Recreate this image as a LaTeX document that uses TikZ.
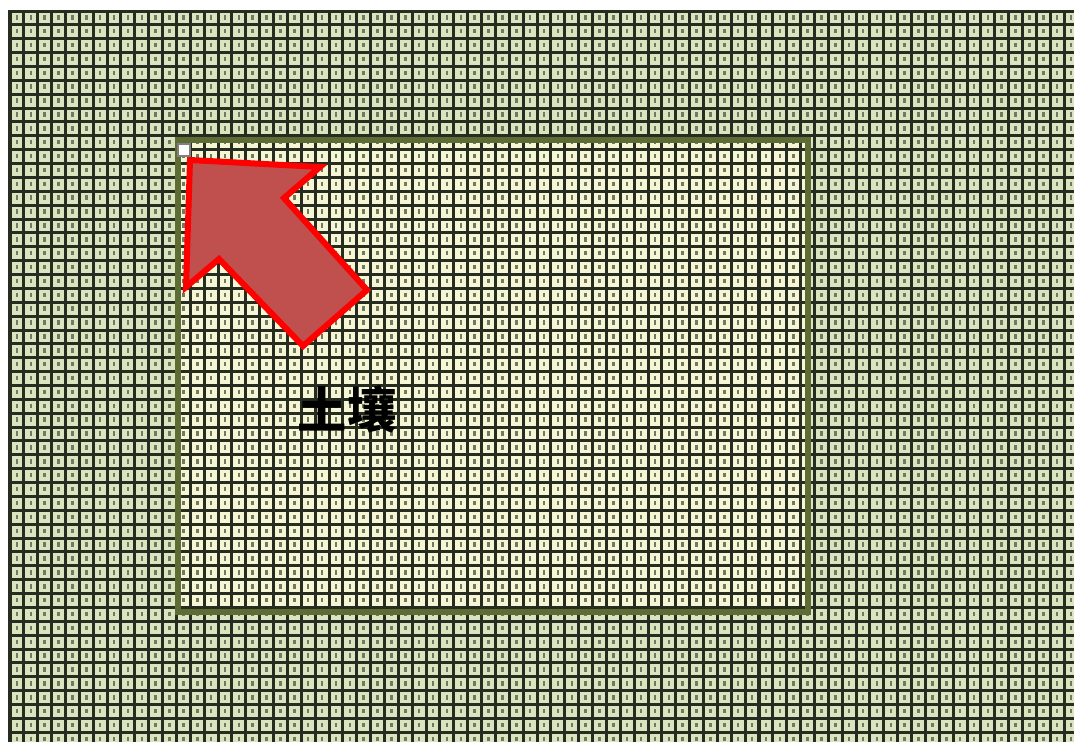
\documentclass[tikz,border=0pt]{standalone}
\usepackage{fontspec}
\newfontfamily\cjkfont{Noto Sans CJK SC}
\usepackage{tikz}
\usetikzlibrary{positioning}
\usepackage{xcolor}
\definecolor{cellgreen}{RGB}{218,228,190}
\definecolor{soilyellow}{RGB}{246,246,212}
\definecolor{gridline}{RGB}{38,44,32}
\definecolor{dotgrey}{RGB}{112,122,98}
\definecolor{soilborder}{RGB}{92,108,52}
\definecolor{arrowfill}{RGB}{192,80,77}
\definecolor{arrowline}{RGB}{255,0,0}

\begin{document}
\begin{tikzpicture}[x=0.01cm, y=-0.01cm,
    gridln/.style={draw=gridline, line width=0.03cm},
    dotln/.style={draw=dotgrey, line width=0.025cm, dash pattern=on 0.045cm off 0.0937cm},
    soil/.style={draw=soilborder, line width=0.06cm},
    bigarrow/.style={draw=arrowline, fill=arrowfill, line width=0.06cm, line join=miter},
    handle/.style={draw=gray, fill=white, line width=0.015cm},
    label/.style={font=\cjkfont\bfseries\fontsize{14}{16}\selectfont, text=black}
]
\useasboundingbox (0,0) rectangle (1080,742);
\fill[white] (0,0) rectangle (1080,742);
% tiled background with the soil area
\begin{scope}
    \clip (8,10) rectangle (1074,742);
    \fill[cellgreen] (8,10) rectangle (1074,742);
    \fill[soilyellow] (178,140) rectangle (808,612);
    \foreach \k in {0,...,76}
        \draw[dotln] ({10+13.87*(\k+0.5)},15) -- ({10+13.87*(\k+0.5)},742);
    \foreach \k in {0,...,77}
        \draw[gridln] ({10+13.87*\k},10) -- ({10+13.87*\k},742);
    \foreach \k in {0,...,53}
        \draw[gridln] (8,{11+13.87*\k}) -- (1074,{11+13.87*\k});
\end{scope}
\draw[soil] (178,140) rectangle (808,612);

% arrow pointing to the corner
\draw[bigarrow] (190,160) -- (320,167) -- (284,198) -- (367,290) -- (303,346)
    -- (219,259) -- (186,287) -- cycle;
\draw[handle] (178,144) rectangle (190,156);

\node[label] (soiltext) at (347,409) {土壤};
\end{tikzpicture}
\end{document}
